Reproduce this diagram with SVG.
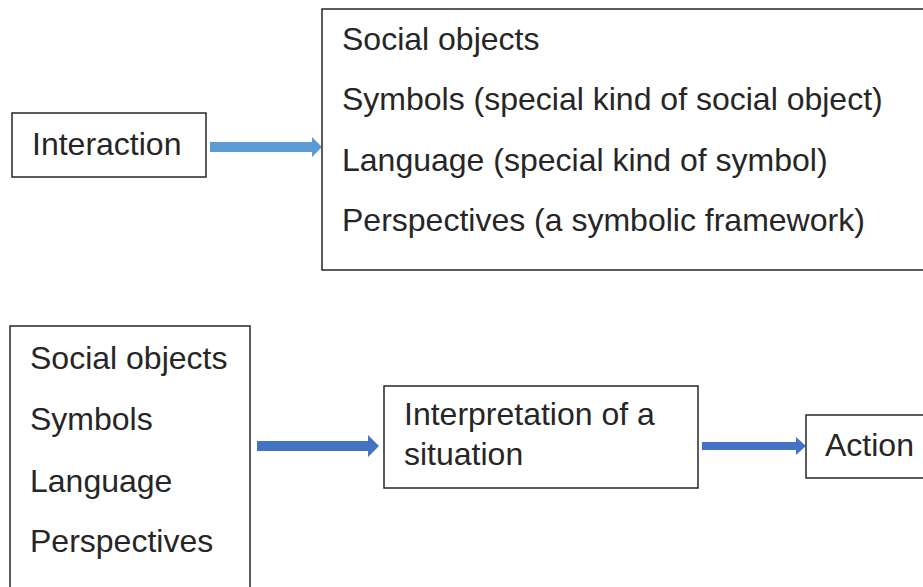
<svg xmlns="http://www.w3.org/2000/svg" width="923" height="587" viewBox="0 0 923 587">
  <style>
    .box { fill: #ffffff; stroke: #262626; stroke-width: 1.5; }
    .t { font-family: "Liberation Sans", Arial, sans-serif; font-size: 32px; fill: #262626; }
    .a1 { fill: #5b9bd5; }
    .a2 { fill: #4472c4; }
  </style>
  <rect width="923" height="587" fill="#ffffff"/>

  <g id="connectors">
    <polygon class="a1" points="210,142 312,142 312,137 322,147 312,157 312,152 210,152"/>
    <polygon class="a2" points="257,441 368,441 368,435 379,446 368,457 368,451 257,451"/>
    <polygon class="a2" points="702,442 796,442 796,437 806,446 796,455 796,450 702,450"/>
  </g>

  <g id="interaction">
    <rect class="box" x="12" y="113" width="194" height="64"/>
    <text class="t" x="32" y="155">Interaction</text>
  </g>

  <g id="social-elements">
    <rect class="box" x="322" y="9" width="610" height="261"/>
    <text class="t" x="342" y="50">Social objects</text>
    <text class="t" x="342" y="110">Symbols (special kind of social object)</text>
    <text class="t" x="342" y="171">Language (special kind of symbol)</text>
    <text class="t" x="342" y="231">Perspectives (a symbolic framework)</text>
  </g>

  <g id="elements">
    <rect class="box" x="10" y="326" width="240" height="270"/>
    <text class="t" x="30" y="369">Social objects</text>
    <text class="t" x="30" y="430">Symbols</text>
    <text class="t" x="30" y="492">Language</text>
    <text class="t" x="30" y="552">Perspectives</text>
  </g>

  <g id="interpretation">
    <rect class="box" x="384" y="386" width="314" height="102"/>
    <text class="t" x="404" y="425">Interpretation of a</text>
    <text class="t" x="404" y="465">situation</text>
  </g>

  <g id="action">
    <rect class="box" x="806" y="415" width="130" height="63"/>
    <text class="t" x="825" y="456">Action</text>
  </g>
</svg>
